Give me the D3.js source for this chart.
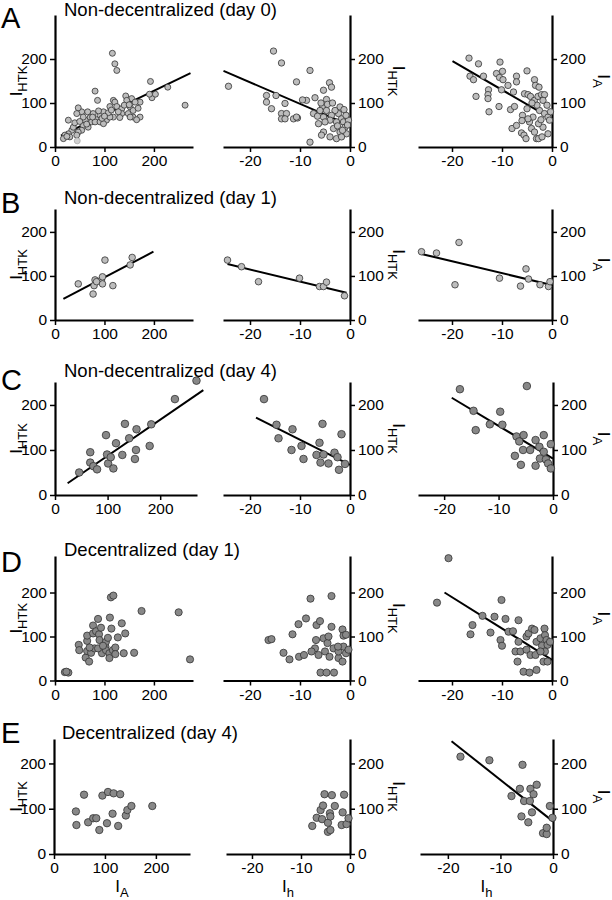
<!DOCTYPE html>
<html>
<head>
<meta charset="utf-8">
<script src="https://cdn.jsdelivr.net/npm/d3@7"></script>
<style>
  body { margin: 0; background: #fff; }
  svg { font-family: "Liberation Sans", Arial, sans-serif; }
</style>
</head>
<body>
<div id="chart"></div>
<script>
// data: [x, y]
// A: non-decentralized, day 0
var a_ia_htk = [[116,213],[121,189],[125,174],[81,127],[86,106],[193,149],[228,136],[263,95],[196,112],[203,120],[191,120],
  [143,116],[155,110],[145,106],[118,106],[121,102],[172,102],[162,102],[111,92],[125,92],[135,87],[152,91],[135,76],[148,76],
  [158,83],[158,68],[172,68],[165,62],[152,68],[131,67],[118,68],[104,61],[91,72],[98,80],[88,82],[77,76],[71,67],[84,62],
  [74,57],[61,61],[54,80],[47,89],[44,76],[57,68],[57,49],[54,38],[47,34],[44,27],[34,38],[27,30],[20,27],[17,19],[30,23],
  [27,61],[37,45],[67,45],[81,57],[91,57],[111,68],[98,53],[108,78],[128,80],[140,95],[95,65],[64,52],[40,55],[24,24],[76,68],
  [100,70],[114,84],[150,96],[168,88],[66,80],[50,58]];
var a_ia_htk_pale = [[45,14]];
var a_ih_htk = [[-24.3,138],[-16.7,117],[-16.7,102],[-15.7,87],[-15.3,218],[-13.7,191],[-14.8,117],[-13,99],[-13.7,76],[-12.7,76],
  [-13.7,64],[-13,64],[-11.3,64],[-10.7,148],[-10.5,66],[-8,174],[-8.7,106],[-7,112],[-7.3,76],[-8,11],[-10.7,68],[-5.3,129],
  [-4.1,146],[-3.7,136],[-4.7,108],[-5.5,91],[-5.3,68],[-5.3,34],[-5.7,27],[-6.3,53],[-4,23],[-3.3,42],[-2.7,19],[-2,91],
  [-2.3,76],[-1.7,64],[-1.3,57],[-1,45],[-0.7,30],[-2,34],[-3,83],[-3.7,72],[-4.7,83],[-2.7,57],[-4,61],[-5,57],[-1.7,23],
  [-0.3,61],[-0.8,72],[-6,83],[-4.5,97],[-3.5,100],[-1.2,85],[-0.5,50],[-2.5,48],[-6.5,70],[-5.8,100],[-1.5,38],[-9.5,107]];
var a_ih_ia = [[-16.6,202],[-14.7,189],[-16.4,161],[-15.7,153],[-13.7,161],[-15.2,115],[-12.7,130],[-12.8,119],[-12.8,110],
  [-12.6,80],[-10.4,193],[-11.1,167],[-9.9,172],[-10.5,158],[-9.8,153],[-10.1,130],[-10.6,92],[-8.8,140],[-7.1,161],[-7.1,148],
  [-7.7,125],[-8.3,85],[-7.5,92],[-5,173],[-8,42],[-7.1,49],[-6.1,32],[-5.6,27],[-5.2,19],[-5.9,72],[-5.5,121],[-4.8,119],
  [-4.3,115],[-5,87],[-4.5,57],[-4.1,42],[-3.5,34],[-3.1,19],[-3.5,153],[-3.3,140],[-2.6,136],[-3.5,106],[-2.8,115],
  [-2.1,119],[-1.5,119],[-1.8,106],[-2.5,83],[-1.5,76],[-0.8,68],[-0.5,61],[-1.8,45],[-0.8,30],[-2.7,19],[-2,23],[-3.8,68],
  [-4.8,64],[-2.7,53],[-3,95],[-1,95],[-4,100],[-0.3,80],[-6,60],[-2.2,62]];

// B: non-decentralized, day 1
var b_ia_htk = [[47,82],[81,91],[79,78],[77,59],[94,91],[96,98],[96,82],[101,136],[117,78],[152,125],[156,142],[84,87]];
var b_ih_htk = [[-24.5,136],[-21.7,121],[-18.3,87],[-10.1,95],[-6.1,76],[-5.3,76],[-4.7,86],[-1.1,55]];
var b_ih_ia = [[-26.1,155],[-23.1,152],[-18.6,176],[-19.4,80],[-10.5,95],[-6.3,77],[-5.2,116],[-4.7,93],[-2.4,80],[-0.7,76],[-0.4,87]];

// C: non-decentralized, day 4
var c_ia_htk = [[46,50],[67,95],[67,72],[73,64],[80,57],[97,133],[99,90],[101,70],[106,84],[111,59],[116,115],[128,89],
  [133,158],[141,126],[154,100],[155,146],[152,80],[180,109],[183,157],[228,213],[269,254]];
var c_ih_htk = [[-17.2,213],[-14.7,156],[-14.3,126],[-11.5,146],[-11.7,100],[-9.7,109],[-9.3,80],[-6.7,89],[-6.1,116],
  [-5.5,158],[-5.3,90],[-5.9,72],[-4.3,70],[-3.1,94],[-2.5,84],[-2.2,56],[-1.7,135],[-1,69]];
var c_ih_ia = [[-17.1,235],[-4.8,242],[-14.6,187],[-9.7,185],[-14.2,144],[-11.6,157],[-9.3,156],[-6.7,130],[-6.2,119],
  [-5.4,133],[-5.5,100],[-4.2,100],[-7,87],[-5.9,67],[-3.2,122],[-1.7,133],[-2.5,107],[-1.7,96],[-0.4,113],[-2.4,81],
  [-1.3,79],[-3.2,65],[-0.9,70],[-0.4,59]];

// D: decentralized, day 1
var d_ia_htk = [[20,19],[27,18],[23,20],[48,81],[49,69],[62,52],[65,67],[65,90],[65,102],[69,43],[73,63],[77,125],[77,107],
  [80,73],[83,112],[87,140],[89,105],[90,92],[93,120],[95,62],[102,77],[103,69],[103,88],[107,97],[110,62],[110,51],[111,143],
  [113,189],[118,193],[114,118],[117,69],[122,75],[122,60],[127,98],[135,130],[139,62],[142,107],[160,63],[175,158],[250,155],
  [273,48],[87,73],[97,79],[70,75]];
var d_ih_htk = [[-16.3,92],[-15.7,94],[-13.3,63],[-12.1,48],[-11.5,105],[-10.3,128],[-10.2,54],[-8.8,141],[-7.9,186],
  [-9.2,58],[-6.8,92],[-6.7,126],[-6,135],[-7,73],[-6.3,58],[-5.9,18],[-4.7,18],[-3.2,18],[-5.3,96],[-4.5,85],[-4.3,100],
  [-3.7,192],[-3.7,122],[-5,66],[-7.7,66],[-4.1,54],[-3.3,73],[-2.3,51],[-2.3,66],[-1.5,116],[-1.5,43],[-1.3,102],[-0.8,104],
  [-1.3,77],[-0.8,62],[-2.4,77],[-0.3,70]];
var d_ih_ia = [[-23,177],[-20.7,278],[-16.3,105],[-15.9,126],[-13.9,147],[-12.3,109],[-11.5,145],[-10.1,183],[-9.3,140],
  [-10.3,92],[-10,79],[-8.7,111],[-7.8,112],[-6.7,137],[-7.3,66],[-6.9,43],[-6.7,88],[-6.3,66],[-5.7,20],[-4.5,18],[-3.1,24],
  [-5.1,100],[-4.7,107],[-5.1,70],[-4.3,58],[-4,118],[-3.5,115],[-3.3,58],[-3.1,88],[-2.3,96],[-2,79],[-1.5,118],[-1.4,103],
  [-1.1,92],[-0.9,81],[-1.4,66],[-1.7,43],[-0.9,43],[-0.4,88],[-2.3,66]];

// E: decentralized, day 4
var e_ia_htk = [[43,94],[44,64],[59,131],[67,70],[77,79],[83,79],[89,53],[95,129],[104,68],[106,137],[115,89],[117,134],
  [126,62],[130,132],[141,85],[144,97],[152,106],[193,106]];
var e_ih_htk = [[-7.7,62],[-6.8,80],[-6,97],[-5.7,77],[-5.5,107],[-5.2,132],[-4.5,69],[-4.5,49],[-4.1,90],[-4,83],[-4,53],
  [-3.7,130],[-3.1,106],[-1.7,64],[-1.5,92],[-1.2,131],[-0.7,66],[-0.3,79]];
var e_ih_ia = [[-17.6,215],[-12.1,207],[-5.8,197],[-7.9,128],[-6.3,144],[-5.5,117],[-4.3,144],[-3.7,132],[-3.1,153],
  [-4.4,117],[-6,83],[-4,92],[-4.7,70],[-1.9,46],[-1.2,44],[-1.2,58],[-0.6,106],[-0.1,80]];

// fitted lines, endpoints [x, y]
var a_fit1 = [[12,26],[274,168]], a_fit2 = [[-25.3,173],[0,49]], a_fit3 = [[-19.9,195],[0,64]];
var b_fit1 = [[17,48],[199,155]], b_fit2 = [[-24.5,127],[-0.7,62]], b_fit3 = [[-26.1,150],[-0.3,80]];
var c_fit1 = [[24,26],[282,233]], c_fit2 = [[-18.8,172],[0,67]], c_fit3 = [[-18.6,216],[0,81]];
var d_fit3 = [[-21.5,200],[0,47]];
var e_fit3 = [[-19.3,249],[0,72]];

var titles = ["Non-decentralized (day 0)", "Non-decentralized (day 1)", "Non-decentralized (day 4)",
  "Decentralized (day 1)", "Decentralized (day 4)"];
var letters = ["A", "B", "C", "D", "E"];
var ticksIA = [0, 100, 200], ticksIh = [-20, -10, 0], ticksY = [0, 100, 200];

// layout per row (pixels)
var rows = [
  {y0: 147, yTop: 15, ymax: 300, fill: "#bdbdbd", r: [3, 3.2, 3.2], titleY: 16, letterY: 28,
   cols: [[55, 193, 279], [223, 350, -25.4], [418, 552, -26.8]],
   pts: [a_ia_htk, a_ih_htk, a_ih_ia], fits: [a_fit1, a_fit2, a_fit3]},
  {y0: 320, yTop: 209, ymax: 252, fill: "#bdbdbd", r: [3.3, 3.3, 3.3], titleY: 204, letterY: 213,
   cols: [[55, 193, 279], [223, 350, -25.4], [418, 552, -26.8]],
   pts: [b_ia_htk, b_ih_htk, b_ih_ia], fits: [b_fit1, b_fit2, b_fit3]},
  {y0: 495, yTop: 382, ymax: 251, fill: "#888888", r: [3.8, 3.8, 3.8], titleY: 377, letterY: 390,
   cols: [[55, 197, 270], [223, 350, -25.4], [418, 553, -24.8]],
   pts: [c_ia_htk, c_ih_htk, c_ih_ia], fits: [c_fit1, c_fit2, c_fit3]},
  {y0: 680.5, yTop: 556, ymax: 283, fill: "#888888", r: [3.6, 3.6, 3.6], titleY: 556, letterY: 572,
   cols: [[55, 193, 279], [223, 350, -25.4], [418, 552, -26.8]],
   pts: [d_ia_htk, d_ih_htk, d_ih_ia], fits: [null, null, d_fit3]},
  {y0: 854, yTop: 739, ymax: 254, fill: "#888888", r: [3.7, 3.7, 3.7], titleY: 739, letterY: 743,
   cols: [[54, 190, 267], [226, 350, -25.3], [420, 553, -25.3]],
   pts: [e_ia_htk, e_ih_htk, e_ih_ia], fits: [null, null, e_fit3]}
];

var svg = d3.select("#chart").append("svg")
  .attr("width", 612)
  .attr("height", 900);

function label(g, x, y, rot, main, sub) {
  var t = g.append("text")
    .attr("transform", "translate(" + x + "," + y + ") rotate(" + rot + ")")
    .attr("text-anchor", "middle")
    .attr("font-size", 17);
  t.append("tspan").text(main);
  t.append("tspan").attr("font-size", 13).attr("dy", 5).text(sub);
}

rows.forEach(function(row, ri) {
  var y = d3.scaleLinear().domain([0, row.ymax]).range([row.y0, row.yTop]);

  svg.append("text").attr("x", 1).attr("y", row.letterY)
    .attr("font-size", 29).text(letters[ri]);
  svg.append("text").attr("x", ri == 4 ? 62 : 64).attr("y", row.titleY)
    .attr("font-size", 18.5).text(titles[ri]);

  row.cols.forEach(function(c, ci) {
    var x = ci == 0
      ? d3.scaleLinear().domain([0, c[2]]).range([c[0], c[1]])
      : d3.scaleLinear().domain([c[2], 0]).range([c[0], c[1]]);
    var g = svg.append("g");

    var xa = g.append("g")
      .attr("transform", "translate(0," + row.y0 + ")")
      .call(d3.axisBottom(x).tickValues(ci == 0 ? ticksIA : ticksIh).tickSize(5).tickSizeOuter(0).tickPadding(3)
        .tickFormat(d3.format("d")));
    var yaxis = ci == 0 ? d3.axisLeft(y) : d3.axisRight(y);
    var ya = g.append("g")
      .attr("transform", "translate(" + (ci == 0 ? c[0] : c[1]) + ",0)")
      .call(yaxis.tickValues(ticksY).tickSize(5).tickSizeOuter(0).tickPadding(3));

    [xa, ya].forEach(function(a) {
      a.select(".domain").attr("stroke-width", 2.2);
      a.selectAll(".tick line").attr("stroke-width", 1.5);
      a.selectAll("text").attr("font-size", 15.5).attr("fill", "#000")
        .attr("font-family", "Liberation Sans, Arial, sans-serif");
    });
    xa.selectAll(".tick text").text(function(d) { return d < 0 ? "-" + (-d) : d; });

    var fit = row.fits[ci];
    if (fit) {
      g.append("line")
        .attr("x1", x(fit[0][0])).attr("y1", y(fit[0][1]))
        .attr("x2", x(fit[1][0])).attr("y2", y(fit[1][1]))
        .attr("stroke", "#000").attr("stroke-width", 2);
    }

    g.selectAll("circle.p").data(row.pts[ci]).enter().append("circle")
      .attr("cx", function(d) { return x(d[0]); })
      .attr("cy", function(d) { return y(d[1]); })
      .attr("r", row.r[ci])
      .attr("fill", row.fill)
      .attr("stroke", "#333")
      .attr("stroke-width", 0.8);
    if (ri == 0 && ci == 0) {
      g.selectAll("circle.q").data(a_ia_htk_pale).enter().append("circle")
        .attr("cx", function(d) { return x(d[0]); })
        .attr("cy", function(d) { return y(d[1]); })
        .attr("r", 3).attr("fill", "#d0d0d0").attr("stroke", "#aaa").attr("stroke-width", 0.8);
    }

    var mid = (row.y0 + row.yTop) / 2;
    if (ci == 0) label(g, 22, mid, -90, "I", "HTK");
    if (ci == 1) label(g, 393, mid, 90, "I", "HTK");
    if (ci == 2) label(g, 598, mid, 90, "I", "A");

    if (ri == 4) {
      label(g, (c[0] + c[1]) / 2, 892, 0, "I", ci == 0 ? "A" : "h");
    }
  });
});
</script>
</body>
</html>
